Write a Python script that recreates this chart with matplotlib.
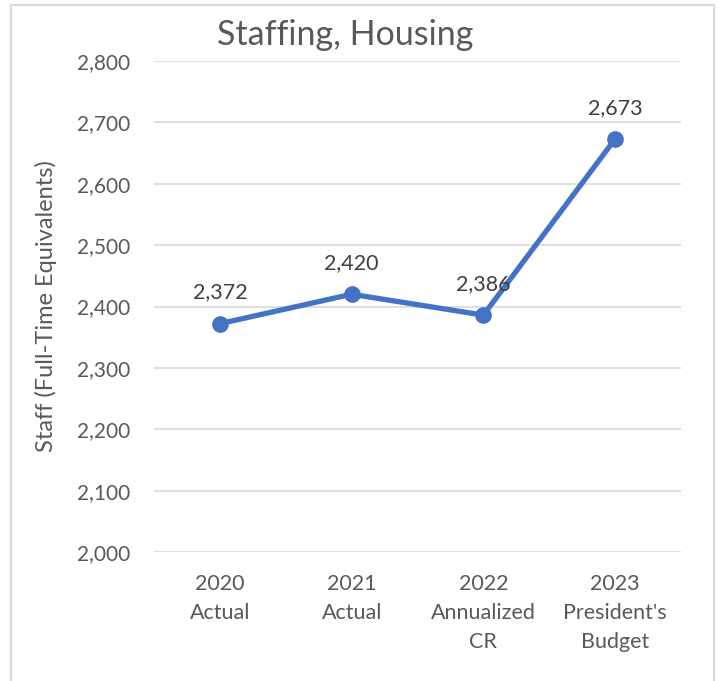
import matplotlib
matplotlib.use("Agg")
import matplotlib.pyplot as plt
from matplotlib.patches import Rectangle
from matplotlib.ticker import FuncFormatter, MultipleLocator

categories = ["2020\nActual", "2021\nActual", "2022\nAnnualized\nCR", "2023\nPresident's\nBudget"]
staff_fte = [2372, 2420, 2386, 2673]
y_min, y_max, y_step = 2000, 2800, 100

TEXT = "#595959"
LABEL = "#404040"
LINE = "#4472C4"
GRID = "#D9D9D9"
plt.rcParams["font.family"] = ["Lato", "DejaVu Sans"]

fig = plt.figure(figsize=(7.18, 6.81), dpi=100)
ax = fig.add_axes([154 / 718, 1 - 552 / 681, (681 - 154) / 718, (552 - 61) / 681])

x = list(range(len(categories)))
ax.plot(x, staff_fte, color=LINE, linewidth=3.8, marker="o", markersize=11,
        solid_capstyle="round", zorder=3)

for xi, v in zip(x, staff_fte):
    ax.annotate(f"{v:,}", (xi, v), xytext=(0, 22.5), textcoords="offset points",
                ha="center", va="center", fontsize=15.5, color=LABEL, zorder=4)

ax.set_xlim(-0.5, len(categories) - 0.5)
ax.set_ylim(y_min, y_max)
ax.yaxis.set_major_locator(MultipleLocator(y_step))
ax.yaxis.set_major_formatter(FuncFormatter(lambda v, p: f"{int(v):,}"))
ax.set_xticks(x)
ax.set_xticklabels(categories)
ax.tick_params(axis="y", length=0, labelsize=15, labelcolor=TEXT, pad=17)
ax.tick_params(axis="x", length=0, labelsize=15.5, labelcolor=TEXT, pad=16)
for lbl in ax.get_xticklabels():
    lbl.set_linespacing(1.55)
ax.grid(axis="y", color=GRID, linewidth=1.2)
ax.set_axisbelow(True)
for s in ax.spines.values():
    s.set_visible(False)

ax.set_ylabel("Staff (Full-Time Equivalents)", fontsize=17, color=TEXT)
ax.yaxis.set_label_coords(-(154 - 57) / 527, 0.5)

fig.text(345 / 718, 1 - 35 / 681, "Staffing, Housing", ha="center", va="center",
         fontsize=24.5, color=TEXT)

fig.add_artist(Rectangle((11 / 718, -0.05), (714 - 11) / 718, 1.05 - 5 / 681,
                         transform=fig.transFigure, fill=False, edgecolor=GRID,
                         linewidth=1.5))

fig.savefig("out.png", dpi=100)
